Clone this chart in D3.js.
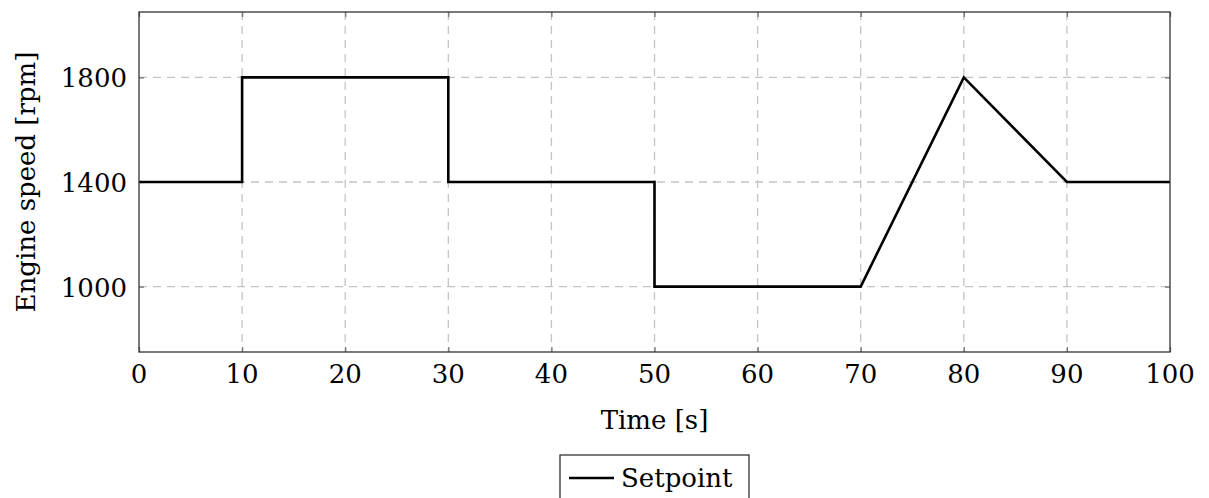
<!DOCTYPE html>
<html><head><meta charset="utf-8">
<script src="https://cdn.jsdelivr.net/npm/d3@7"></script>
<style>body{margin:0;background:#fff}svg{display:block}</style>
</head><body>
<svg id="c" width="1209" height="498"></svg>
<script>
const timeValues = [0, 10, 10, 30, 30, 50, 50, 70, 80, 90, 100];
const speedValues = [1400, 1400, 1800, 1800, 1400, 1400, 1000, 1000, 1800, 1400, 1400];
const xTicks = [0, 10, 20, 30, 40, 50, 60, 70, 80, 90, 100];
const yTicks = [1000, 1400, 1800];
const xLabel = "Time [s]";
const yLabel = "Engine speed [rpm]";
const seriesName = "Setpoint";

const FONT = "'DejaVu Serif', serif";
const FS = 26;
const svg = d3.select("#c");
const L = 139, R = 1170, T = 12, B = 352;
const x = d3.scaleLinear().domain([0, 100]).range([L, R]);
const y = d3.scaleLinear().domain([750, 2050]).range([B, T]);

// grid
const g = svg.append("g");
g.selectAll(".gx").data(xTicks.slice(1, -1)).join("line")
  .attr("x1", d => x(d)).attr("x2", d => x(d)).attr("y1", T).attr("y2", B)
  .attr("stroke", "#c4c4c4").attr("stroke-width", 1.3).attr("stroke-dasharray", "8,6");
g.selectAll(".gy").data(yTicks).join("line")
  .attr("x1", L).attr("x2", R).attr("y1", d => y(d)).attr("y2", d => y(d))
  .attr("stroke", "#c4c4c4").attr("stroke-width", 1.3).attr("stroke-dasharray", "8,6");

// inward ticks
const tk = 5;
const xAxB = d3.axisBottom(x).tickValues(xTicks).tickSize(-tk).tickFormat("");
const xAxT = d3.axisTop(x).tickValues(xTicks).tickSize(-tk).tickFormat("");
const yAxL = d3.axisLeft(y).tickValues(yTicks).tickSize(-tk).tickFormat("");
const yAxR = d3.axisRight(y).tickValues(yTicks).tickSize(-tk).tickFormat("");
[[xAxB, `translate(0,${B})`], [xAxT, `translate(0,${T})`], [yAxL, `translate(${L},0)`], [yAxR, `translate(${R},0)`]].forEach(([ax, tr]) => {
  const a = svg.append("g").attr("transform", tr).call(ax);
  a.select(".domain").remove();
  a.selectAll("line").attr("stroke", "#777").attr("stroke-width", 1.3);
});

// data line
const pts = timeValues.map((t, i) => [t, speedValues[i]]);
svg.append("path").datum(pts)
  .attr("d", d3.line().x(d => x(d[0])).y(d => y(d[1])))
  .attr("fill", "none").attr("stroke", "#000").attr("stroke-width", 2.6).attr("stroke-linejoin", "miter");

// frame
svg.append("rect").attr("x", L).attr("y", T).attr("width", R - L).attr("height", B - T)
  .attr("fill", "none").attr("stroke", "#333").attr("stroke-width", 1.3);

function txt(sel) { return sel.attr("font-family", FONT).attr("font-size", FS).attr("fill", "#000"); }

// tick labels
txt(svg.selectAll(".xl").data(xTicks).join("text")
  .attr("x", d => x(d)).attr("y", 383).attr("text-anchor", "middle")).text(d => d);
txt(svg.selectAll(".yl").data(yTicks).join("text")
  .attr("x", 127).attr("y", d => y(d) + 10).attr("text-anchor", "end")).text(d => d);

// axis labels
txt(svg.append("text").attr("x", (L + R) / 2).attr("y", 429).attr("text-anchor", "middle")).text(xLabel);
txt(svg.append("text").attr("transform", `translate(35,${(T + B) / 2}) rotate(-90)`)
  .attr("text-anchor", "middle")).text(yLabel);

// legend
svg.append("rect").attr("x", 560).attr("y", 455).attr("width", 189).attr("height", 60)
  .attr("fill", "#fff").attr("stroke", "#333").attr("stroke-width", 1.3);
svg.append("line").attr("x1", 569).attr("x2", 614).attr("y1", 478).attr("y2", 478)
  .attr("stroke", "#000").attr("stroke-width", 2.6);
txt(svg.append("text").attr("x", 621).attr("y", 487)).text(seriesName);
</script>
</body></html>
